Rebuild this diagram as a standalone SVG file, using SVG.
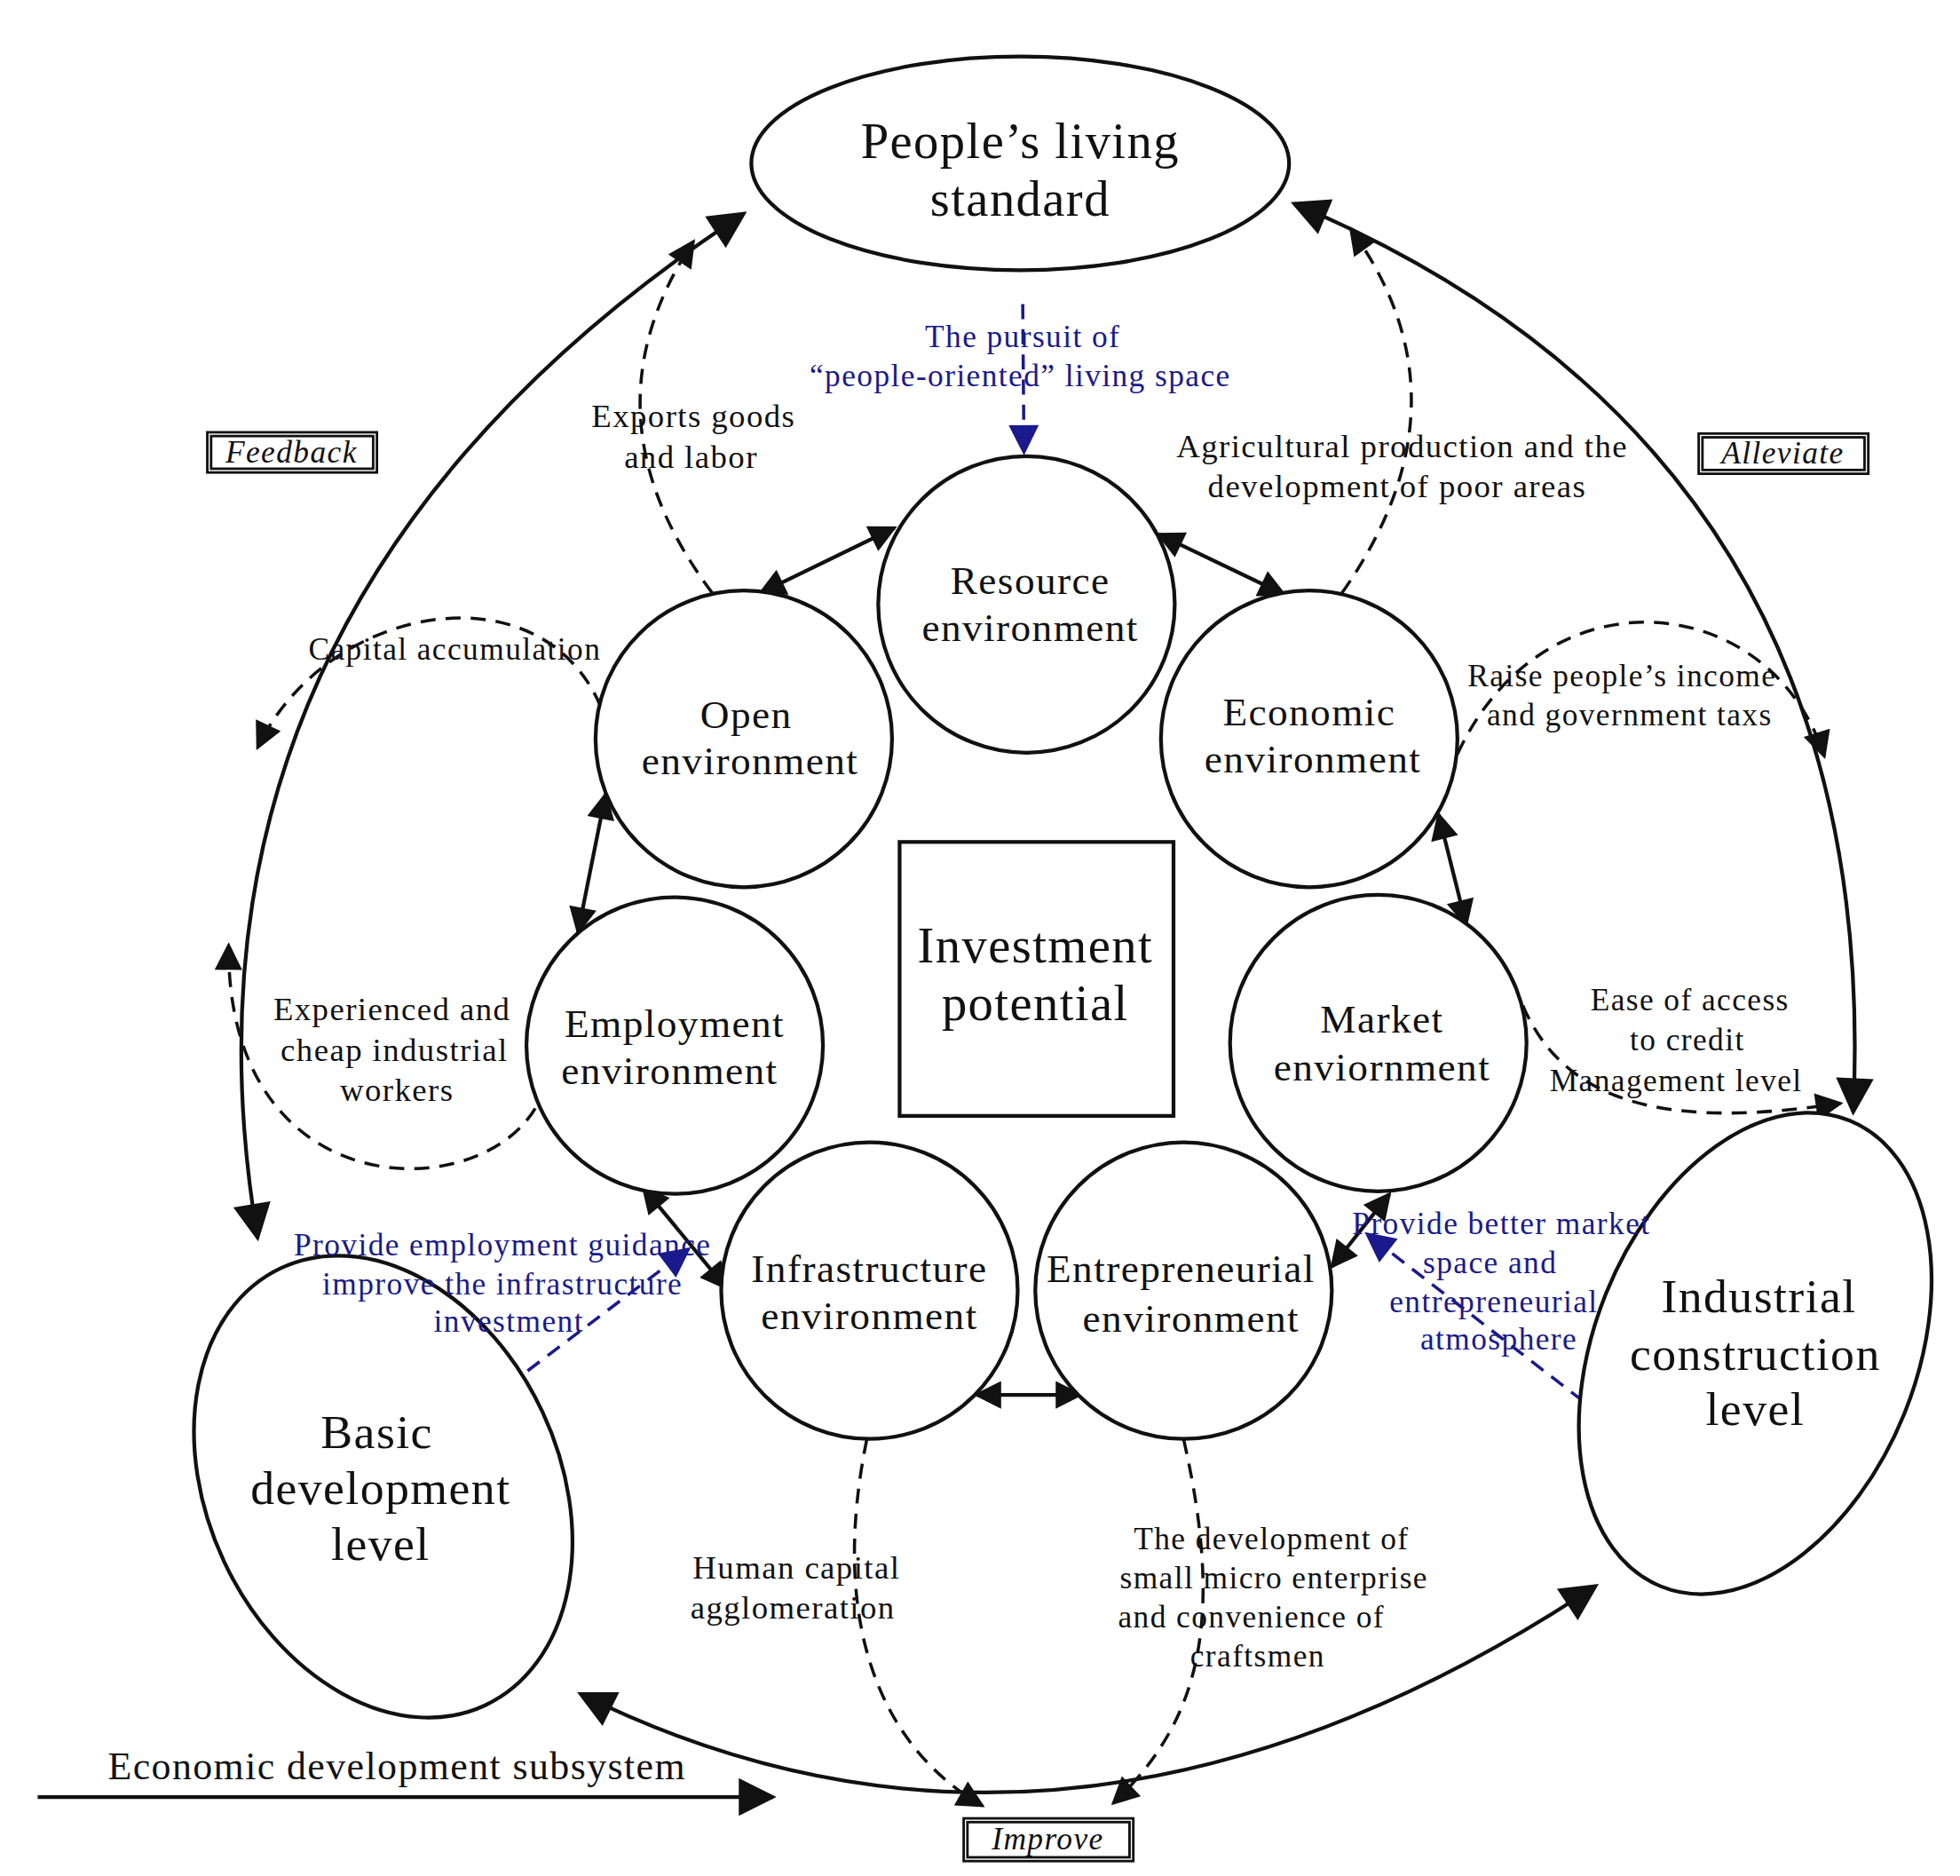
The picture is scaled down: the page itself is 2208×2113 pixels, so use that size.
<svg xmlns="http://www.w3.org/2000/svg" width="2208" height="2113" viewBox="0 0 2208 2113">
<defs>
<style>
.n{fill:#fff;stroke:#111;stroke-width:3}
.t{font-family:"Liberation Serif",serif;fill:#111;text-anchor:middle;letter-spacing:1px}
.b{fill:#1a1a8c}
.s{fill:none;stroke:#111;stroke-width:3}
.d{fill:none;stroke:#111;stroke-width:2.5;stroke-dasharray:12,8}
.bd{fill:none;stroke:#1a1a8c;stroke-width:2.5;stroke-dasharray:12,8}
.lb{fill:#fff;stroke:#111;stroke-width:2}
</style>
<marker id="A" viewBox="0 0 10 10" refX="9" refY="5" markerWidth="34" markerHeight="30" markerUnits="userSpaceOnUse" orient="auto-start-reverse"><path d="M0,0L10,5L0,10z" fill="#111"/></marker>
<marker id="a" viewBox="0 0 10 10" refX="9" refY="5" markerWidth="26" markerHeight="22" markerUnits="userSpaceOnUse" orient="auto-start-reverse"><path d="M0,0L10,5L0,10z" fill="#111"/></marker>
<marker id="B" viewBox="0 0 10 10" refX="9" refY="5" markerWidth="28" markerHeight="24" markerUnits="userSpaceOnUse" orient="auto-start-reverse"><path d="M0,0L10,5L0,10z" fill="#1a1a8c"/></marker>
</defs>
<rect width="2208" height="2113" fill="#fff"/>
<g transform="scale(1.4154)">
<g id="connectors">
<path class="s" d="M205,985 Q120,480 592,170" marker-start="url(#A)" marker-end="url(#A)"/>
<path class="s" d="M1475,885 Q1500,360 1030,162" marker-start="url(#A)" marker-end="url(#A)"/>
<path class="s" d="M462,1348 Q850,1540 1270,1262" marker-start="url(#A)" marker-end="url(#A)"/>
<path class="s" d="M30,1430 L615,1430" marker-end="url(#A)"/>
<path class="s" d="M605,472 L712,420" marker-start="url(#a)" marker-end="url(#a)"/>
<path class="s" d="M922,425 L1022,473" marker-start="url(#a)" marker-end="url(#a)"/>
<path class="s" d="M482,632 L460,742" marker-start="url(#a)" marker-end="url(#a)"/>
<path class="s" d="M1145,648 L1167,736" marker-start="url(#a)" marker-end="url(#a)"/>
<path class="s" d="M512,945 L578,1025" marker-start="url(#a)" marker-end="url(#a)"/>
<path class="s" d="M1106,950 L1060,1008" marker-start="url(#a)" marker-end="url(#a)"/>
<path class="s" d="M777,1110 L860,1110" marker-start="url(#a)" marker-end="url(#a)"/>
<path class="d" d="M567,472 Q460,330 552,192" marker-end="url(#a)"/>
<path class="d" d="M1068,472 Q1175,320 1075,182" marker-end="url(#a)"/>
<path class="d" d="M478,562 C430,450 260,480 205,595" marker-end="url(#a)"/>
<path class="d" d="M1160,600 C1230,450 1410,470 1452,602" marker-end="url(#a)"/>
<path class="d" d="M426,882 C380,960 180,960 182,752" marker-end="url(#a)"/>
<path class="d" d="M1212,800 C1250,890 1350,895 1465,878" marker-end="url(#a)"/>
<path class="d" d="M690,1145 C660,1290 700,1390 782,1437" marker-end="url(#a)"/>
<path class="d" d="M942,1145 C975,1290 955,1370 886,1435" marker-end="url(#a)"/>
<path class="bd" d="M814,242 L815,360" marker-end="url(#B)"/>
<path class="bd" d="M388,1115 L548,994" marker-end="url(#B)"/>
<path class="bd" d="M1260,1115 L1088,982" marker-end="url(#B)"/>
</g>
<g id="people"><ellipse class="n" cx="812" cy="130" rx="214" ry="85"/><text class="t" x="812" y="126" font-size="40">People’s living</text><text class="t" x="812" y="172" font-size="40">standard</text></g>
<g id="resource"><circle class="n" cx="817" cy="481" r="118"/><text class="t" x="820" y="473" font-size="32">Resource</text><text class="t" x="820" y="510" font-size="32">environment</text></g>
<g id="open"><circle class="n" cx="592" cy="588" r="118"/><text class="t" x="594" y="579" font-size="32">Open</text><text class="t" x="597" y="616" font-size="32">environment</text></g>
<g id="economic"><circle class="n" cx="1042" cy="588" r="118"/><text class="t" x="1042" y="577" font-size="32">Economic</text><text class="t" x="1045" y="615" font-size="32">environment</text></g>
<g id="employment"><circle class="n" cx="537" cy="832" r="118"/><text class="t" x="537" y="825" font-size="32">Employment</text><text class="t" x="533" y="863" font-size="32">environment</text></g>
<g id="market"><circle class="n" cx="1097" cy="830" r="118"/><text class="t" x="1100" y="822" font-size="32">Market</text><text class="t" x="1100" y="860" font-size="32">enviornment</text></g>
<g id="infrastructure"><circle class="n" cx="692" cy="1027" r="118"/><text class="t" x="692" y="1020" font-size="32">Infrastructure</text><text class="t" x="692" y="1058" font-size="32">environment</text></g>
<g id="entrepreneurial"><circle class="n" cx="942" cy="1027" r="118"/><text class="t" x="940" y="1020" font-size="32">Entrepreneurial</text><text class="t" x="948" y="1060" font-size="32">environment</text></g>
<g id="investment"><rect class="n" x="716" y="670" width="218" height="218"/><text class="t" x="824" y="766" font-size="40">Investment</text><text class="t" x="824" y="812" font-size="40">potential</text></g>
<g id="basic"><ellipse class="n" cx="305" cy="1183" rx="140" ry="192" transform="rotate(-25 305 1183)"/><text class="t" x="300" y="1152" font-size="38">Basic</text><text class="t" x="303" y="1197" font-size="38">development</text><text class="t" x="303" y="1241" font-size="38">level</text></g>
<g id="industrial"><ellipse class="n" cx="1397" cy="1077" rx="128" ry="200" transform="rotate(22 1397 1077)"/><text class="t" x="1400" y="1044" font-size="38">Industrial</text><text class="t" x="1397" y="1090" font-size="38">construction</text><text class="t" x="1397" y="1134" font-size="38">level</text></g>
<g id="labels">
<rect class="lb" x="165" y="344" width="135" height="32"/><rect class="lb" x="168" y="347" width="129" height="26"/><text class="t" x="232" y="368" font-size="25" font-style="italic">Feedback</text>
<rect class="lb" x="1352" y="345" width="135" height="32"/><rect class="lb" x="1355" y="348" width="129" height="26"/><text class="t" x="1419" y="369" font-size="25" font-style="italic">Alleviate</text>
<rect class="lb" x="767" y="1447" width="135" height="34"/><rect class="lb" x="770" y="1450" width="129" height="28"/><text class="t" x="834" y="1472" font-size="25" font-style="italic">Improve</text>
<text class="t" x="316" y="1416" font-size="31" style="text-anchor:middle">Economic development subsystem</text>
<text class="t b" x="814" y="276" font-size="25">The pursuit of</text>
<text class="t b" x="812" y="307" font-size="25">“people-oriented” living space</text>
<text class="t" x="552" y="340" font-size="26">Exports goods</text>
<text class="t" x="550" y="372" font-size="26">and labor</text>
<text class="t" x="1116" y="364" font-size="26">Agricultural production and the</text>
<text class="t" x="1112" y="396" font-size="26">development of poor areas</text>
<text class="t" x="362" y="525" font-size="25">Capital accumulation</text>
<text class="t" x="1291" y="546" font-size="25">Raise people’s income</text>
<text class="t" x="1297" y="577" font-size="25">and government taxs</text>
<text class="t" x="312" y="812" font-size="26">Experienced and</text>
<text class="t" x="314" y="844" font-size="26">cheap industrial</text>
<text class="t" x="316" y="876" font-size="26">workers</text>
<text class="t" x="1345" y="804" font-size="25">Ease of access</text>
<text class="t" x="1343" y="836" font-size="25">to credit</text>
<text class="t" x="1334" y="868" font-size="25">Management level</text>
<text class="t b" x="400" y="999" font-size="25">Provide employment guidance</text>
<text class="t b" x="400" y="1030" font-size="25">improve the infrastructure</text>
<text class="t b" x="405" y="1060" font-size="25">investment</text>
<text class="t b" x="1195" y="982" font-size="25">Provide better market</text>
<text class="t b" x="1186" y="1013" font-size="25">space  and</text>
<text class="t b" x="1189" y="1044" font-size="25">entrepreneurial</text>
<text class="t b" x="1193" y="1074" font-size="25">atmosphere</text>
<text class="t" x="634" y="1256" font-size="26">Human capital</text>
<text class="t" x="631" y="1288" font-size="26">agglomeration</text>
<text class="t" x="1012" y="1233" font-size="25">The development of</text>
<text class="t" x="1014" y="1264" font-size="25">small micro enterprise</text>
<text class="t" x="996" y="1295" font-size="25">and convenience of</text>
<text class="t" x="1001" y="1326" font-size="25">craftsmen</text>
</g>
</g>
</svg>
